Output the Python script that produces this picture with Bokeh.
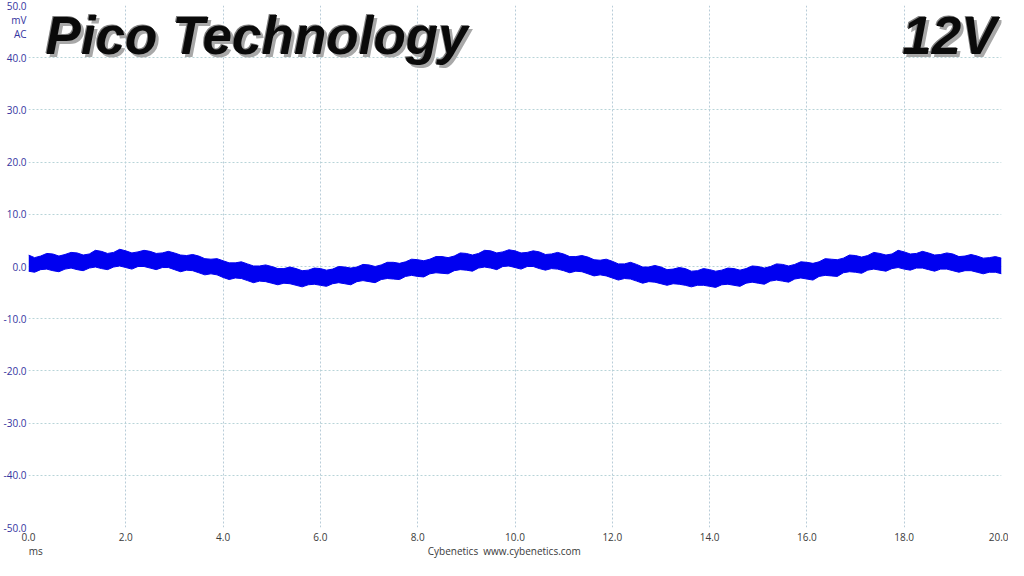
from bokeh.plotting import figure
from bokeh.models import FixedTicker, PrintfTickFormatter, Label, ColumnDataSource, Range1d, LinearAxis
from bokeh.embed import file_html
from bokeh.resources import INLINE

# ---- data, envelope of the noisy trace every 0.125 ms ----
upper_mv = [2.2, 1.7, 2.0, 2.5, 2.4, 2.0, 2.3, 2.7, 2.6, 2.2, 2.4, 3.1, 2.9, 2.5, 2.7, 3.3,
            3.0, 2.6, 2.8, 3.1, 2.9, 2.5, 2.6, 2.9, 2.6, 2.2, 2.1, 2.3, 2.0, 1.5, 1.4, 1.5,
            1.1, 0.7, 0.7, 0.9, 0.5, 0.1, 0.1, 0.3, 0.0, -0.4, -0.4, -0.1, -0.4, -0.8, -0.7, -0.3,
            -0.4, -0.7, -0.5, 0.0, -0.1, -0.3, -0.1, 0.4, 0.3, 0.0, 0.3, 0.8, 0.8, 0.6, 0.9, 1.4,
            1.3, 1.1, 1.4, 1.9, 1.9, 1.7, 2.0, 2.6, 2.5, 2.2, 2.5, 3.1, 3.0, 2.6, 2.8, 3.2,
            3.0, 2.6, 2.7, 3.0, 2.8, 2.3, 2.4, 2.7, 2.4, 1.9, 1.9, 2.1, 1.8, 1.3, 1.2, 1.4,
            1.0, 0.5, 0.5, 0.8, 0.4, -0.1, -0.1, 0.2, -0.1, -0.6, -0.5, -0.2, -0.4, -0.9, -0.8, -0.4,
            -0.6, -0.9, -0.7, -0.3, -0.4, -0.7, -0.4, 0.1, 0.0, -0.3, 0.0, 0.5, 0.4, 0.1, 0.4, 0.9,
            0.8, 0.6, 0.9, 1.5, 1.4, 1.3, 1.6, 2.2, 2.1, 1.8, 2.1, 2.7, 2.5, 2.2, 2.4, 3.1,
            2.8, 2.4, 2.5, 2.9, 2.6, 2.2, 2.3, 2.6, 2.4, 1.9, 2.0, 2.3, 2.0, 1.6, 1.7, 1.9,
            1.6]
lower_mv = [-0.9, -1.1, -0.6, -0.5, -0.8, -1.0, -0.5, -0.3, -0.6, -0.8, -0.3, -0.1, -0.4, -0.6, -0.1, 0.1,
            -0.2, -0.5, 0.0, 0.0, -0.3, -0.6, -0.2, -0.2, -0.6, -1.0, -0.7, -0.8, -1.2, -1.6, -1.4, -1.6,
            -2.1, -2.5, -2.2, -2.3, -2.7, -3.1, -2.8, -2.9, -3.2, -3.5, -3.2, -3.3, -3.6, -3.9, -3.5, -3.4,
            -3.6, -3.8, -3.3, -3.1, -3.3, -3.5, -2.9, -2.7, -2.9, -3.1, -2.5, -2.3, -2.4, -2.5, -1.9, -1.7,
            -1.9, -2.0, -1.4, -1.2, -1.3, -1.4, -0.8, -0.6, -0.7, -0.9, -0.3, -0.1, -0.3, -0.6, 0.0, 0.1,
            -0.2, -0.5, 0.0, 0.0, -0.4, -0.7, -0.4, -0.5, -0.8, -1.2, -0.9, -1.0, -1.4, -1.8, -1.6, -1.8,
            -2.2, -2.6, -2.3, -2.4, -2.8, -3.2, -2.9, -3.0, -3.3, -3.6, -3.3, -3.4, -3.6, -3.9, -3.6, -3.6,
            -3.8, -4.0, -3.5, -3.4, -3.6, -3.8, -3.2, -3.0, -3.2, -3.4, -2.8, -2.6, -2.8, -3.0, -2.4, -2.2,
            -2.4, -2.6, -1.9, -1.7, -1.8, -1.9, -1.2, -1.0, -1.1, -1.3, -0.7, -0.5, -0.7, -0.9, -0.4, -0.2,
            -0.5, -0.7, -0.3, -0.3, -0.6, -0.9, -0.5, -0.5, -0.8, -1.1, -0.8, -0.8, -1.1, -1.4, -1.1, -1.1,
            -1.4]
time_ms = [i * 0.125 for i in range(len(upper_mv))]
x_ticks = [0, 2, 4, 6, 8, 10, 12, 14, 16, 18, 20]
y_ticks = [-50, -40, -30, -20, -10, 0, 10, 20, 30, 40, 50]
title_text = "Pico Technology"
rail_text = "12V"
unit_labels = {47.3: "mV", 44.5: "AC"}
bottom_labels = {0.15: "ms", 9.78: "Cybenetics\u00a0\u00a0www.cybenetics.com"}

src = ColumnDataSource(dict(t=time_ms, up=upper_mv, lo=lower_mv))

p = figure(width=1008, height=560, output_backend="svg", toolbar_location=None,
           x_range=Range1d(0, 20), y_range=Range1d(-50, 50),
           min_border_left=23, min_border_right=7, min_border_top=5, min_border_bottom=4)
p.outline_line_color = None
p.background_fill_color = "white"
p.border_fill_color = "white"

# secondary bottom axis carrying the "ms" and credit texts
credit_axis = LinearAxis(ticker=FixedTicker(ticks=list(bottom_labels.keys())),
                         major_label_overrides=bottom_labels)
p.add_layout(credit_axis, "below")

for ax in (p.xaxis[0], p.yaxis[0], credit_axis):
    ax.axis_line_color = None
    ax.major_tick_line_color = None
    ax.minor_tick_line_color = None
    ax.major_tick_out = 0
    ax.major_tick_in = 0
    ax.minor_tick_out = 0
    ax.minor_tick_in = 0
    ax.major_label_text_font = "Open Sans"
    ax.major_label_text_font_size = "10px"
    ax.major_label_text_line_height = 1.0
p.xaxis[0].ticker = FixedTicker(ticks=x_ticks)
p.yaxis[0].ticker = FixedTicker(ticks=y_ticks + list(unit_labels.keys()))
p.yaxis[0].major_label_overrides = unit_labels
p.xaxis[0].formatter = PrintfTickFormatter(format="%.1f")
p.yaxis[0].formatter = PrintfTickFormatter(format="%.1f")
p.xaxis[0].major_label_text_color = "#3a3a3a"
credit_axis.major_label_text_color = "#3a3a3a"
p.yaxis[0].major_label_text_color = "#3434a0"
p.xaxis[0].major_label_standoff = 5
credit_axis.major_label_standoff = 0
p.yaxis[0].major_label_standoff = 2

p.xgrid[0].ticker = FixedTicker(ticks=x_ticks)
p.ygrid[0].ticker = FixedTicker(ticks=y_ticks)
p.xgrid[0].grid_line_color = "#b8ccd8"
p.xgrid[0].grid_line_dash = "2 2"
p.ygrid[0].grid_line_color = "#b8d4d8"
p.ygrid[0].grid_line_dash = "2 2"

p.varea(x="t", y1="lo", y2="up", source=src, fill_color="#0000f0")
p.line(x="t", y="up", source=src, line_color="#0000f0", line_width=1)
p.line(x="t", y="lo", source=src, line_color="#0000f0", line_width=1)

# titles with a simple 3D look: shadow, highlight rim, black face
layers = [(3, -3, "#a8a8a8"), (-1, 1, "#808080"), (0, 0, "#0a0a0a")]
for dx, dy, col in layers:
    p.add_layout(Label(x=0.35, y=44.3, x_offset=dx, y_offset=dy, text=title_text,
                       text_align="left", text_baseline="alphabetic",
                       text_font="Liberation Sans", text_font_style="bold italic",
                       text_font_size="53px", text_color=col))
    p.add_layout(Label(x=19.9, y=44.3, x_offset=dx, y_offset=dy, text=rail_text,
                       text_align="right", text_baseline="alphabetic",
                       text_font="Liberation Sans", text_font_style="bold italic",
                       text_font_size="53px", text_color=col))

open("out.html", "w").write(file_html(p, INLINE))
